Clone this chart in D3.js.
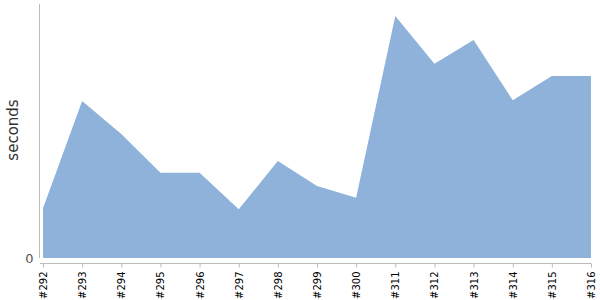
<!DOCTYPE html>
<html>
<head>
<meta charset="utf-8">
<script src="https://cdn.jsdelivr.net/npm/d3@7"></script>
<style>
	body { margin: 0; background: #fff; }
	svg { font-family: "DejaVu Sans", sans-serif; }
</style>
</head>
<body>
<script>
// build numbers and run times (seconds)
var builds = ["#292", "#293", "#294", "#295", "#296", "#297", "#298", "#299",
			  "#300", "#311", "#312", "#313", "#314", "#315", "#316"];
var seconds = [58.7, 185.4, 146.5, 100.7, 100.7, 57.5, 114.6, 85.0,
			   71.2, 285.8, 229.5, 257.5, 186.3, 215.0, 215.0];
var yTicks = [0];

var width = 600,
	height = 300;

var svg = d3.select("body").append("svg")
	.attr("width", width)
	.attr("height", height);

var x = d3.scalePoint()
	.domain(builds)
	.range([43, 591]);

var y = d3.scaleLinear()
	.domain([0, 300])
	.range([258, 4]);

var area = d3.area()
	.x(function(d, i) { return x(builds[i]); })
	.y0(y(0))
	.y1(function(d) { return y(d); });

svg.append("path")
	.datum(seconds)
	.attr("fill", "#8fb2da")
	.attr("d", area);

// y axis
var yAxis = svg.append("g")
	.attr("transform", "translate(39.5,0)")
	.call(d3.axisLeft(y).tickValues(yTicks).tickSize(0).tickPadding(6));
yAxis.select(".domain").attr("stroke", "#bbb").attr("d", "M0,4V258");
yAxis.selectAll("text")
	.attr("fill", "#555")
	.attr("font-size", 13)
	.attr("font-family", "DejaVu Sans, sans-serif");

// x axis
var xAxis = svg.append("g")
	.attr("transform", "translate(0,263.5)")
	.call(d3.axisBottom(x).tickSize(4).tickSizeOuter(0));
xAxis.select(".domain").attr("stroke", "#bbb").attr("d", "M40,0H591");
xAxis.selectAll(".tick line").attr("stroke", "#bbb");
xAxis.selectAll("text")
	.attr("fill", "#000")
	.attr("font-size", 10)
	.attr("font-family", "DejaVu Sans, sans-serif")
	.attr("text-anchor", "end")
	.attr("transform", "rotate(-90)")
	.attr("x", -8)
	.attr("y", 0)
	.attr("dy", "0.35em");

svg.append("text")
	.attr("transform", "translate(18,130) rotate(-90)")
	.attr("text-anchor", "middle")
	.attr("font-size", 15)
	.attr("fill", "#333")
	.text("seconds");
</script>
</body>
</html>
